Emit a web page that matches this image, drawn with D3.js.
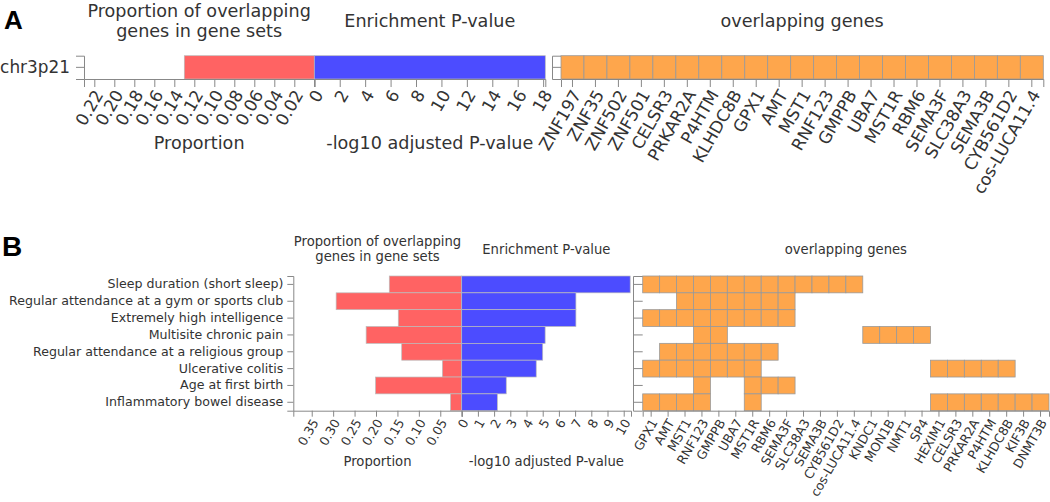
<!DOCTYPE html>
<html>
<head>
<meta charset="utf-8">
<script src="https://cdn.jsdelivr.net/npm/d3@7"></script>
<style>
body { margin: 0; background: #fff; }
text { font-family: "DejaVu Sans", sans-serif; fill: #333; }
.axis path, .axis line { stroke: #888; }
.panel-label { font-family: "Liberation Sans", Arial, sans-serif; font-weight: bold; fill: #000; }
</style>
</head>
<body>
<script>
// Panel A: chr3p21 locus
var rowsA = ["chr3p21"];
var propA = [0.13];
var pvalA = [18.17];
var genesA = ["ZNF197", "ZNF35", "ZNF502", "ZNF501", "CELSR3", "PRKAR2A", "P4HTM",
    "KLHDC8B", "GPX1", "AMT", "MST1", "RNF123", "GMPPB", "UBA7", "MST1R", "RBM6",
    "SEMA3F", "SLC38A3", "SEMA3B", "CYB561D2", "cos-LUCA11.4"];
var hitsA = [genesA];
var propTicksA = [0.02, 0.04, 0.06, 0.08, 0.10, 0.12, 0.14, 0.16, 0.18, 0.20, 0.22];
var pTicksA = [0, 2, 4, 6, 8, 10, 12, 14, 16, 18];

// Panel B: GWAS traits
var rowsB = ["Sleep duration (short sleep)", "Regular attendance at a gym or sports club",
    "Extremely high intelligence", "Multisite chronic pain",
    "Regular attendance at a religious group", "Ulcerative colitis",
    "Age at first birth", "Inflammatory bowel disease"];
var propB = [0.169, 0.293, 0.148, 0.223, 0.140, 0.045, 0.201, 0.026];
var pvalB = [10.4, 7.05, 7.05, 5.15, 5.0, 4.6, 2.75, 2.2];
var genesB = ["GPX1", "AMT", "MST1", "RNF123", "GMPPB", "UBA7", "MST1R", "RBM6",
    "SEMA3F", "SLC38A3", "SEMA3B", "CYB561D2", "cos-LUCA11.4", "KNDC1", "MON1B",
    "NMT1", "SP4", "HEXIM1", "CELSR3", "PRKAR2A", "P4HTM", "KLHDC8B", "KIF3B", "DNMT3B"];
var hitsB = [
    ["GPX1", "AMT", "MST1", "RNF123", "GMPPB", "UBA7", "MST1R", "RBM6", "SEMA3F", "SLC38A3", "SEMA3B", "CYB561D2", "cos-LUCA11.4"],
    ["MST1", "RNF123", "GMPPB", "UBA7", "MST1R", "RBM6", "SEMA3F"],
    ["GPX1", "AMT", "MST1", "RNF123", "GMPPB", "UBA7", "MST1R", "RBM6", "SEMA3F"],
    ["RNF123", "GMPPB", "KNDC1", "MON1B", "NMT1", "SP4"],
    ["AMT", "MST1", "RNF123", "GMPPB", "UBA7", "MST1R", "RBM6"],
    ["GPX1", "AMT", "MST1", "RNF123", "GMPPB", "UBA7", "MST1R", "HEXIM1", "CELSR3", "PRKAR2A", "P4HTM", "KLHDC8B"],
    ["RNF123", "MST1R", "RBM6", "SEMA3F"],
    ["GPX1", "AMT", "MST1", "RNF123", "MST1R", "HEXIM1", "CELSR3", "PRKAR2A", "P4HTM", "KLHDC8B", "KIF3B", "DNMT3B"]
];
var propTicksB = [0.05, 0.10, 0.15, 0.20, 0.25, 0.30, 0.35];
var pTicksB = [0, 1, 2, 3, 4, 5, 6, 7, 8, 9, 10];

var svg = d3.select("body").append("svg")
    .attr("width", 1050)
    .attr("height", 502);

// clip panel A so the long gene label is cut like in the figure
svg.append("clipPath").attr("id", "clipA")
    .append("rect").attr("x", 0).attr("y", 0).attr("width", 1050).attr("height", 228);

var panelA = svg.append("g").attr("clip-path", "url(#clipA)");
var panelB = svg.append("g");

var layoutA = {left: 84, zero: 314.3, right: 545.3, top: 55.7, bottom: 79,
    hmLeft: 561, hmRight: 1043.3, hmAxis: 552, propMax: 0.2303, pMax: 18.17,
    fs: 16.9, tfs: 17.6, tick: 8, pad: 6, lab: [4, 12.5],
    titleY: [17, 36.5], midTitleY: 27, axisTitleY: 148.5};
var layoutB = {left: 293.3, zero: 461.7, right: 631, top: 276, bottom: 410.7,
    hmLeft: 642.7, hmRight: 1049, hmAxis: 633, propMax: 0.393, pMax: 10.45,
    fs: 12.6, tfs: 13.2, tick: 6, pad: 4, lab: [3, 9.5],
    titleY: [246, 261], midTitleY: 254, axisTitleY: 466};

drawPanel(panelA, rowsA, propA, pvalA, genesA, hitsA, propTicksA, pTicksA, layoutA);
drawPanel(panelB, rowsB, propB, pvalB, genesB, hitsB, propTicksB, pTicksB, layoutB);

svg.append("text").attr("class", "panel-label")
    .attr("x", 4).attr("y", 28.5).style("font-size", "26px").text("A");
svg.append("text").attr("class", "panel-label")
    .attr("x", 2).attr("y", 256).style("font-size", "28px").text("B");

function drawPanel(g, rows, prop, pval, genes, hits, propTicks, pTicks, L) {

    var y = d3.scaleBand().domain(rows).range([L.top, L.bottom]);
    var xProp = d3.scaleLinear().domain([0, L.propMax]).range([L.zero, L.left]);
    var xP = d3.scaleLinear().domain([0, L.pMax]).range([L.zero, L.right]);
    var xG = d3.scaleBand().domain(genes).range([L.hmLeft, L.hmRight]);

    // proportion bars (pointing left)
    g.selectAll(".prop-bar")
        .data(rows)
        .enter().append("rect")
        .attr("class", "prop-bar")
        .attr("x", function(d, i) { return xProp(prop[i]); })
        .attr("y", function(d) { return y(d); })
        .attr("width", function(d, i) { return L.zero - xProp(prop[i]); })
        .attr("height", y.bandwidth())
        .attr("fill", "#ff6363")
        .attr("stroke", "#bbb")
        .attr("stroke-width", 0.7);

    // p-value bars (pointing right)
    g.selectAll(".p-bar")
        .data(rows)
        .enter().append("rect")
        .attr("class", "p-bar")
        .attr("x", L.zero)
        .attr("y", function(d) { return y(d); })
        .attr("width", function(d, i) { return xP(pval[i]) - L.zero; })
        .attr("height", y.bandwidth())
        .attr("fill", "#4c4cff")
        .attr("stroke", "#bbb")
        .attr("stroke-width", 0.7);

    // overlapping gene cells
    rows.forEach(function(r, i) {
        g.selectAll(".cell-" + i)
            .data(hits[i])
            .enter().append("rect")
            .attr("class", "cell-" + i)
            .attr("x", function(d) { return xG(d); })
            .attr("y", y(r))
            .attr("width", xG.bandwidth())
            .attr("height", y.bandwidth())
            .attr("fill", "#fea64c")
            .attr("stroke", "#999")
            .attr("stroke-width", 0.8);
    });

    // axes
    var yAxis = g.append("g")
        .attr("class", "axis")
        .attr("transform", "translate(" + L.left + ",0)")
        .call(d3.axisLeft(y).tickSize(L.tick).tickSizeOuter(L.tick).tickPadding(L.pad));
    yAxis.selectAll("text").style("font-size", L.fs + "px");

    var propAxis = g.append("g")
        .attr("class", "axis")
        .attr("transform", "translate(0," + L.bottom + ")")
        .call(d3.axisBottom(xProp).tickValues(propTicks).tickFormat(d3.format(".2f"))
            .tickSize(L.tick).tickSizeOuter(L.tick));
    rotateLabels(propAxis, L);

    var pAxis = g.append("g")
        .attr("class", "axis")
        .attr("transform", "translate(0," + L.bottom + ")")
        .call(d3.axisBottom(xP).tickValues(pTicks).tickFormat(d3.format("d"))
            .tickSize(L.tick).tickSizeOuter(L.tick));
    rotateLabels(pAxis, L);

    var gAxis = g.append("g")
        .attr("class", "axis")
        .attr("transform", "translate(0," + L.bottom + ")")
        .call(d3.axisBottom(xG).tickSize(L.tick).tickSizeOuter(L.tick));
    rotateLabels(gAxis, L);

    g.append("g")
        .attr("class", "axis")
        .attr("transform", "translate(" + L.hmAxis + ",0)")
        .call(d3.axisRight(y).tickFormat("").tickSize(L.hmLeft - L.hmAxis)
            .tickSizeOuter(L.hmLeft - L.hmAxis));

    // titles
    var propMid = (L.left + L.zero) / 2,
        pMid = (L.zero + L.right) / 2,
        gMid = (L.hmLeft + L.hmRight) / 2;

    g.append("text").attr("x", propMid).attr("y", L.titleY[0])
        .attr("text-anchor", "middle").style("font-size", L.tfs + "px")
        .text("Proportion of overlapping");
    g.append("text").attr("x", propMid).attr("y", L.titleY[1])
        .attr("text-anchor", "middle").style("font-size", L.tfs + "px")
        .text("genes in gene sets");
    g.append("text").attr("x", pMid).attr("y", L.midTitleY)
        .attr("text-anchor", "middle").style("font-size", L.tfs + "px")
        .text("Enrichment P-value");
    g.append("text").attr("x", gMid).attr("y", L.midTitleY)
        .attr("text-anchor", "middle").style("font-size", L.tfs + "px")
        .text("overlapping genes");

    g.append("text").attr("x", propMid).attr("y", L.axisTitleY)
        .attr("text-anchor", "middle").style("font-size", L.tfs + "px")
        .text("Proportion");
    g.append("text").attr("x", pMid).attr("y", L.axisTitleY)
        .attr("text-anchor", "middle").style("font-size", L.tfs + "px")
        .text("-log10 adjusted P-value");
}

function rotateLabels(axis, L) {
    axis.selectAll(".tick text")
        .attr("x", 0)
        .attr("y", 0)
        .attr("dy", "0.35em")
        .style("text-anchor", "end")
        .style("font-size", L.fs + "px")
        .attr("transform", "translate(" + L.lab[0] + "," + L.lab[1] + ") rotate(-60)");
}
</script>
</body>
</html>
